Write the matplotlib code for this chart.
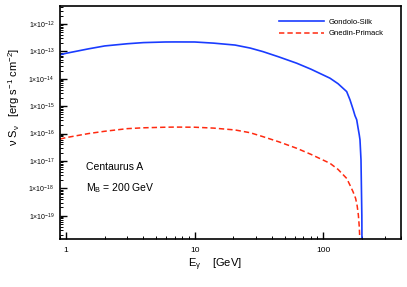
import matplotlib
matplotlib.use("Agg")
import math
import matplotlib.pyplot as plt
from matplotlib.ticker import LogLocator, FixedLocator, NullFormatter

plt.rcParams['font.family'] = ['Liberation Sans', 'DejaVu Sans']
plt.rcParams['mathtext.fontset'] = 'custom'
plt.rcParams['mathtext.rm'] = 'Liberation Sans'
plt.rcParams['mathtext.it'] = 'Liberation Sans'

# Gondolo-Silk (E in GeV, nu S_nu in erg s^-1 cm^-2)
gs_E = [0.9, 1.0, 1.5, 2.0, 3.0, 4.0, 5.9, 7.0, 10.0, 14.0, 20.6, 27.0, 33.9, 45.0, 62.0, 80.0,
        112.5, 130.0, 151.7, 161.0, 170.7, 176.0, 181.5, 186.0, 190.0, 192.5, 196.0, 199.0, 199.9]
gs_S = [7.5e-14, 8.5e-14, 1.24e-13, 1.58e-13, 1.9e-13, 2.09e-13, 2.2e-13, 2.21e-13, 2.2e-13,
        2.0e-13, 1.7e-13, 1.32e-13, 9.8e-14, 6.3e-14, 3.7e-14, 2.24e-14,
        1.05e-14, 6.6e-15, 3.4e-15, 1.7e-15, 7.3e-16, 4.5e-16, 3.2e-16, 1.6e-16, 9e-17,
        5.9e-17, 1.1e-17, 1e-19, 1e-21]
# Gnedin-Primack
gp_E = [0.9, 1.0, 1.5, 2.0, 3.0, 4.0, 5.9, 7.0, 10.0, 14.0, 20.6, 27.0, 33.9, 45.0, 62.0, 80.0,
        112.5, 130.0, 151.7, 161.0, 170.0, 178.0, 183.0, 187.0, 190.0, 192.5, 194.0]
gp_S = [6.3e-17, 7.1e-17, 1.0e-16, 1.21e-16, 1.51e-16, 1.62e-16, 1.7e-16, 1.72e-16, 1.7e-16,
        1.58e-16, 1.35e-16, 1.07e-16, 7.7e-17, 5.0e-17, 2.9e-17, 1.74e-17,
        8.2e-18, 4.9e-18, 2.3e-18, 1.3e-18, 7.5e-19, 4.3e-19, 2.3e-19, 1.06e-19, 4e-20,
        1e-20, 1e-21]

fig = plt.figure(figsize=(4.07, 2.87), dpi=100)
ax = fig.add_axes([60/407, 1-239/287, (401-60)/407, (239-5.5)/287])

ax.plot(gs_E, gs_S, color='#1a3cff', lw=1.2, label='Gondolo-Silk')
ax.plot(gp_E, gp_S, color='#ff2a10', lw=1.1, ls=(0, (3.5, 2)), label='Gnedin-Primack')

ax.set_xscale('log')
ax.set_yscale('log')
ax.set_xlim(0.898, 401)
ax.set_ylim(1.41e-20, 4.73e-12)

ax.xaxis.set_major_locator(FixedLocator([1, 10, 100]))
ax.set_xticklabels(['1', '10', '100'])
ax.xaxis.set_minor_locator(LogLocator(base=10, subs=range(2, 10), numticks=20))
ax.xaxis.set_minor_formatter(NullFormatter())

yt = [1e-19, 1e-18, 1e-17, 1e-16, 1e-15, 1e-14, 1e-13, 1e-12]
ax.yaxis.set_major_locator(FixedLocator(yt))
ax.set_yticklabels([r'1$\times$10$^{%d}$' % round(math.log10(v)) for v in yt])
ax.yaxis.set_minor_locator(LogLocator(base=10, subs=range(2, 10), numticks=30))
ax.yaxis.set_minor_formatter(NullFormatter())

ax.tick_params(which='major', direction='in', length=5, width=1.0, top=False, right=False)
ax.tick_params(which='minor', direction='in', length=2.5, width=0.7, top=False, right=False)
ax.tick_params(axis='y', labelsize=5, pad=4)
ax.tick_params(axis='x', labelsize=6, pad=6)
for s in ax.spines.values():
    s.set_linewidth(1.2)

ax.set_xlabel(r'E$_\gamma$    [GeV]', fontsize=8, labelpad=2)
ax.xaxis.set_label_coords(0.455, -0.075, transform=ax.transAxes)
ax.xaxis.label.set_va('top')
ax.set_ylabel(r'$\nu$ S$_\nu$   [erg s$^{-1}$ cm$^{-2}$]', fontsize=8, labelpad=3)
ax.yaxis.set_label_coords(-0.112, 0.61, transform=ax.transAxes)

ax.text(0.075, 0.31, 'Centaurus A', transform=ax.transAxes, fontsize=7.5, va='center')
ax.text(0.075, 0.22, r'M$_\mathrm{B}$ = 200 GeV', transform=ax.transAxes, fontsize=7.5, va='center')

ax.legend(loc='upper right', fontsize=5.5, frameon=False, handlelength=5.9, handletextpad=0.65,
          bbox_to_anchor=(0.97, 0.975), labelspacing=0.6)

fig.savefig('out.png', dpi=100)
